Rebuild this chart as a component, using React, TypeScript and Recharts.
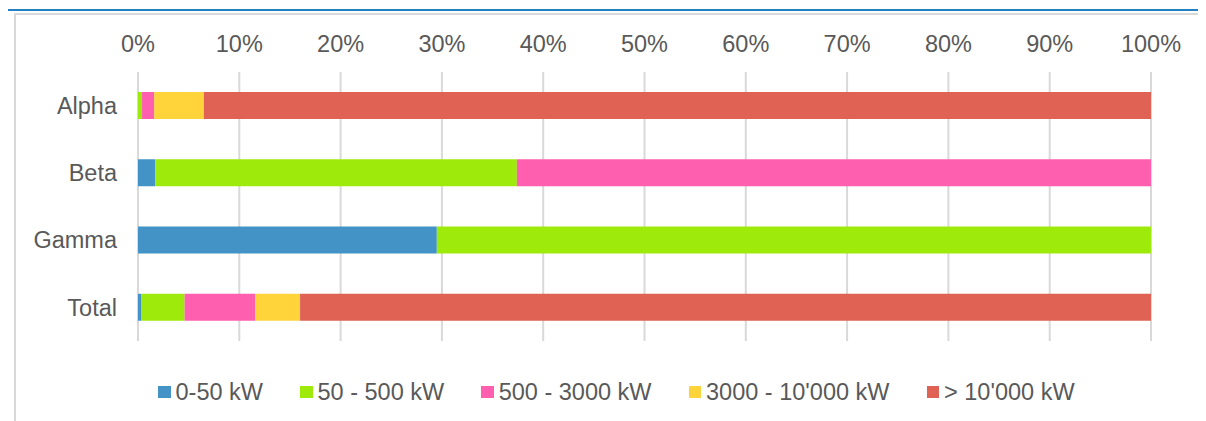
import { BarChart, Bar, XAxis, YAxis, CartesianGrid, Legend } from "recharts";

const TEXT = "#595959";
const GRID = "#d9d9d9";
const FONT = "'Liberation Sans', Arial, sans-serif";

const categories = ["Alpha", "Beta", "Gamma", "Total"];

// share of capacity per size class, in %
const kw0to50 = [0, 1.7, 29.5, 0.3];
const kw50to500 = [0.4, 35.7, 70.5, 4.3];
const kw500to3000 = [1.2, 62.6, 0, 6.95];
const kw3000to10000 = [4.9, 0, 0, 4.45];
const kwOver10000 = [93.5, 0, 0, 84];

const xTicks = [0, 10, 20, 30, 40, 50, 60, 70, 80, 90, 100];

const series = [
  { key: "s1", name: "0-50 kW", color: "#4493c7", values: kw0to50 },
  { key: "s2", name: "50 - 500 kW", color: "#9dea0b", values: kw50to500 },
  { key: "s3", name: "500 - 3000 kW", color: "#ff5fae", values: kw500to3000 },
  { key: "s4", name: "3000 - 10'000 kW", color: "#ffd33a", values: kw3000to10000 },
  { key: "s5", name: "> 10'000 kW", color: "#e06254", values: kwOver10000 },
];

const data = categories.map((name, i) => {
  const row: Record<string, string | number> = { name };
  series.forEach((s) => (row[s.key] = s.values[i]));
  return row;
});

function LegendRow() {
  return (
    <div style={{ display: "flex", alignItems: "center", fontFamily: FONT, fontSize: 23.5, lineHeight: "24px", color: TEXT, whiteSpace: "nowrap" }}>
      {series.map((s) => (
        <span key={s.key} style={{ display: "flex", alignItems: "center", marginRight: 37 }}>
          <span style={{ display: "inline-block", width: 12.5, height: 12.5, background: s.color, marginRight: 5 }} />
          {s.name}
        </span>
      ))}
    </div>
  );
}

export default function App() {
  return (
    <div style={{ position: "relative", margin: "-8px 0 0 -8px", width: 1206, height: 421, overflow: "hidden", background: "#fff" }}>
      {/* frame: blue rule + grey box */}
      <div style={{ position: "absolute", left: 5, top: 9, width: 1201, height: 2, background: "#2480c0" }} />
      <div style={{ position: "absolute", left: 14, top: 13, width: 1300, height: 500, border: `2px solid ${GRID}` }} />
      <div style={{ position: "absolute", left: 0, top: 0 }}>
        <BarChart
          width={1206}
          height={421}
          data={data}
          layout="vertical"
          barSize={27}
          margin={{ top: 32, right: 55, bottom: 80, left: 0 }}
        >
          <CartesianGrid horizontal={false} stroke={GRID} strokeWidth={2} />
          <XAxis
            type="number"
            orientation="top"
            domain={[0, 100]}
            ticks={xTicks}
            tickFormatter={(v: number) => `${v}%`}
            height={40}
            axisLine={false}
            tickLine={false}
            tickSize={6}
            tickMargin={14}
            tick={{ fill: TEXT, fontSize: 23.5, fontFamily: FONT }}
          />
          <YAxis
            type="category"
            dataKey="name"
            width={138}
            axisLine={false}
            tickLine={false}
            tickSize={6}
            tickMargin={15}
            tick={{ fill: TEXT, fontSize: 23.5, fontFamily: FONT }}
          />
          {series.map((s) => (
            <Bar key={s.key} dataKey={s.key} name={s.name} stackId="a" fill={s.color} isAnimationActive={false} />
          ))}
          <Legend
            layout="horizontal"
            verticalAlign="middle"
            align="center"
            wrapperStyle={{ top: 380, left: 158, width: "auto" }}
            content={() => <LegendRow />}
          />
        </BarChart>
      </div>
    </div>
  );
}
